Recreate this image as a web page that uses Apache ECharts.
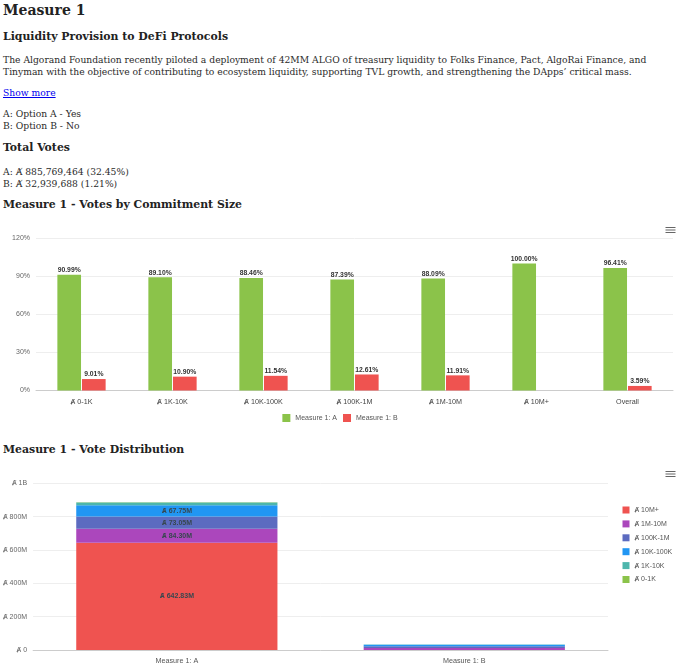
<!DOCTYPE html>
<html>
<head>
<meta charset="utf-8">
<script src="https://cdn.jsdelivr.net/npm/echarts@6/dist/echarts.min.js"></script>
<style>
  html, body { margin: 0; padding: 0; background: #fff; }
  body { width: 680px; height: 669px; position: relative; overflow: hidden;
         font-family: 'DejaVu Serif', serif; color: #222; }
  .t { position: absolute; left: 3px; white-space: nowrap; margin: 0; }
  .h1 { font-size: 14px; font-weight: bold; line-height: 18px; }
  .h2 { font-size: 10.9px; font-weight: bold; line-height: 14px; }
  .p  { font-size: 9.2px; line-height: 11.8px; color: #2a2a2a; }
  a { color: #0000ee; text-decoration: underline; }
  #c1 { position: absolute; left: 0; top: 218px; width: 680px; height: 212px; }
  #c2 { position: absolute; left: 0; top: 465px; width: 680px; height: 204px; }
</style>
</head>
<body>
<div class="t h1" style="top:1px">Measure 1</div>
<div class="t h2" style="top:30px">Liquidity Provision to DeFi Protocols</div>
<div class="t p" style="top:54px">The Algorand Foundation recently piloted a deployment of 42MM ALGO of treasury liquidity to Folks Finance, Pact, AlgoRai Finance, and<br>Tinyman with the objective of contributing to ecosystem liquidity, supporting TVL growth, and strengthening the DApps’ critical mass.</div>
<div class="t p" style="top:87px"><a href="#">Show more</a></div>
<div class="t p" style="top:108px">A: Option A - Yes<br>B: Option B - No</div>
<div class="t h2" style="top:141px">Total Votes</div>
<div class="t p" style="top:166px">A: Ⱥ 885,769,464 (32.45%)<br>B: Ⱥ 32,939,688 (1.21%)</div>
<div class="t h2" style="top:198px">Measure 1 - Votes by Commitment Size</div>
<div id="c1"></div>
<div class="t h2" style="top:443px">Measure 1 - Vote Distribution</div>
<div id="c2"></div>
<script>
// ---- Chart 1 data ----
var sizeCategories = ['Ⱥ 0-1K', 'Ⱥ 1K-10K', 'Ⱥ 10K-100K', 'Ⱥ 100K-1M', 'Ⱥ 1M-10M', 'Ⱥ 10M+', 'Overall'];
var pctA = [90.99, 89.10, 88.46, 87.39, 88.09, 100.00, 96.41];
var pctB = [9.01, 10.90, 11.54, 12.61, 11.91, 0, 3.59];
var pctTicks = [0, 30, 60, 90, 120];

// ---- Chart 2 data ----
var measureCategories = ['Measure 1: A', 'Measure 1: B'];
var bucketNames = ['Ⱥ 10M+', 'Ⱥ 1M-10M', 'Ⱥ 100K-1M', 'Ⱥ 10K-100K', 'Ⱥ 1K-10K', 'Ⱥ 0-1K'];
var bucketA = [642.83e6, 84.30e6, 73.05e6, 67.75e6, 16.50e6, 1.34e6];
var bucketB = [0, 11.40e6, 10.54e6, 8.84e6, 2.02e6, 0.13e6];
var voteTicks = ['Ⱥ 0', 'Ⱥ 200M', 'Ⱥ 400M', 'Ⱥ 600M', 'Ⱥ 800M', 'Ⱥ 1B'];

var FONT = 'Liberation Sans, Arial, sans-serif';
var menuIcon = 'path://M0,0H24M0,6H24M0,12H24';

var c1 = echarts.init(document.getElementById('c1'), null, { renderer: 'canvas' });
c1.setOption({
  animation: false,
  textStyle: { fontFamily: FONT },
  toolbox: {
    right: -13, top: -8, itemSize: 10,
    iconStyle: { borderColor: '#666', borderWidth: 1.2 },
    feature: { myMenu: { show: true, title: '', icon: menuIcon, onclick: function () {} } }
  },
  legend: {
    top: 191, left: 'center', itemWidth: 8, itemHeight: 8, itemGap: 6,
    icon: 'rect',
    textStyle: { fontSize: 7, color: '#555', fontFamily: FONT },
    data: ['Measure 1: A', 'Measure 1: B']
  },
  grid: { left: 36, right: 7, top: 20, bottom: 39.5 },
  xAxis: {
    type: 'category', data: sizeCategories,
    axisLine: { lineStyle: { color: '#ccc' } },
    axisTick: { lineStyle: { color: '#ccc' }, length: 5 },
    axisLabel: { fontSize: 7.2, color: '#444', margin: 8 }
  },
  yAxis: {
    type: 'value', min: 0, max: 120, interval: 30,
    axisLabel: { fontSize: 7, color: '#666', margin: 6, formatter: function (v) { return v + '%'; } },
    splitLine: { lineStyle: { color: '#eee' } }
  },
  series: [
    {
      name: 'Measure 1: A', type: 'bar', data: pctA, barWidth: '26%', barGap: '4%',
      itemStyle: { color: '#8BC34A' },
      label: { show: true, position: 'top', distance: 1, fontSize: 6.8, fontWeight: 'bold', color: '#333',
        formatter: function (p) { return p.value ? p.value.toFixed(2) + '%' : ''; } }
    },
    {
      name: 'Measure 1: B', type: 'bar', data: pctB, barWidth: '26%',
      itemStyle: { color: '#EF5350' },
      label: { show: true, position: 'top', distance: 1, fontSize: 6.8, fontWeight: 'bold', color: '#333',
        formatter: function (p) { return p.value ? p.value.toFixed(2) + '%' : ''; } }
    }
  ]
});

var bucketColors = ['#EF5350', '#AB47BC', '#5C6BC0', '#2196F3', '#4DB6AC', '#8BC34A'];
var stackSeries = bucketNames.map(function (name, i) {
  return {
    name: name, type: 'bar', stack: 'votes', barWidth: '70%',
    data: [bucketA[i], bucketB[i]],
    itemStyle: { color: bucketColors[i] },
    label: { show: true, position: 'inside', fontSize: 7, fontWeight: 'bold', color: '#37474F',
      formatter: function (p) { return p.value >= 30e6 ? 'Ⱥ ' + (p.value / 1e6).toFixed(2) + 'M' : ''; } }
  };
});

var c2 = echarts.init(document.getElementById('c2'), null, { renderer: 'canvas' });
c2.setOption({
  animation: false,
  textStyle: { fontFamily: FONT },
  toolbox: {
    right: -13, top: -11, itemSize: 10,
    iconStyle: { borderColor: '#666', borderWidth: 1.2 },
    feature: { myMenu: { show: true, title: '', icon: menuIcon, onclick: function () {} } }
  },
  legend: {
    orient: 'vertical', left: 617.5, top: 36.5, itemWidth: 7, itemHeight: 7, itemGap: 6.9,
    icon: 'rect',
    textStyle: { fontSize: 7, color: '#555', fontFamily: FONT },
    data: bucketNames
  },
  grid: { left: 33, right: 72, top: 18.3, bottom: 19 },
  xAxis: {
    type: 'category', data: measureCategories,
    axisLine: { lineStyle: { color: '#ccc' } },
    axisTick: { lineStyle: { color: '#ccc' }, length: 5 },
    axisLabel: { fontSize: 7.2, color: '#555', margin: 8 }
  },
  yAxis: {
    type: 'value', min: 0, max: 1e9, interval: 2e8,
    axisLabel: { fontSize: 7, color: '#666', margin: 6,
      formatter: function (v) { return voteTicks[Math.round(v / 2e8)]; } },
    splitLine: { lineStyle: { color: '#eee' } }
  },
  series: stackSeries
});
</script>
</body>
</html>
